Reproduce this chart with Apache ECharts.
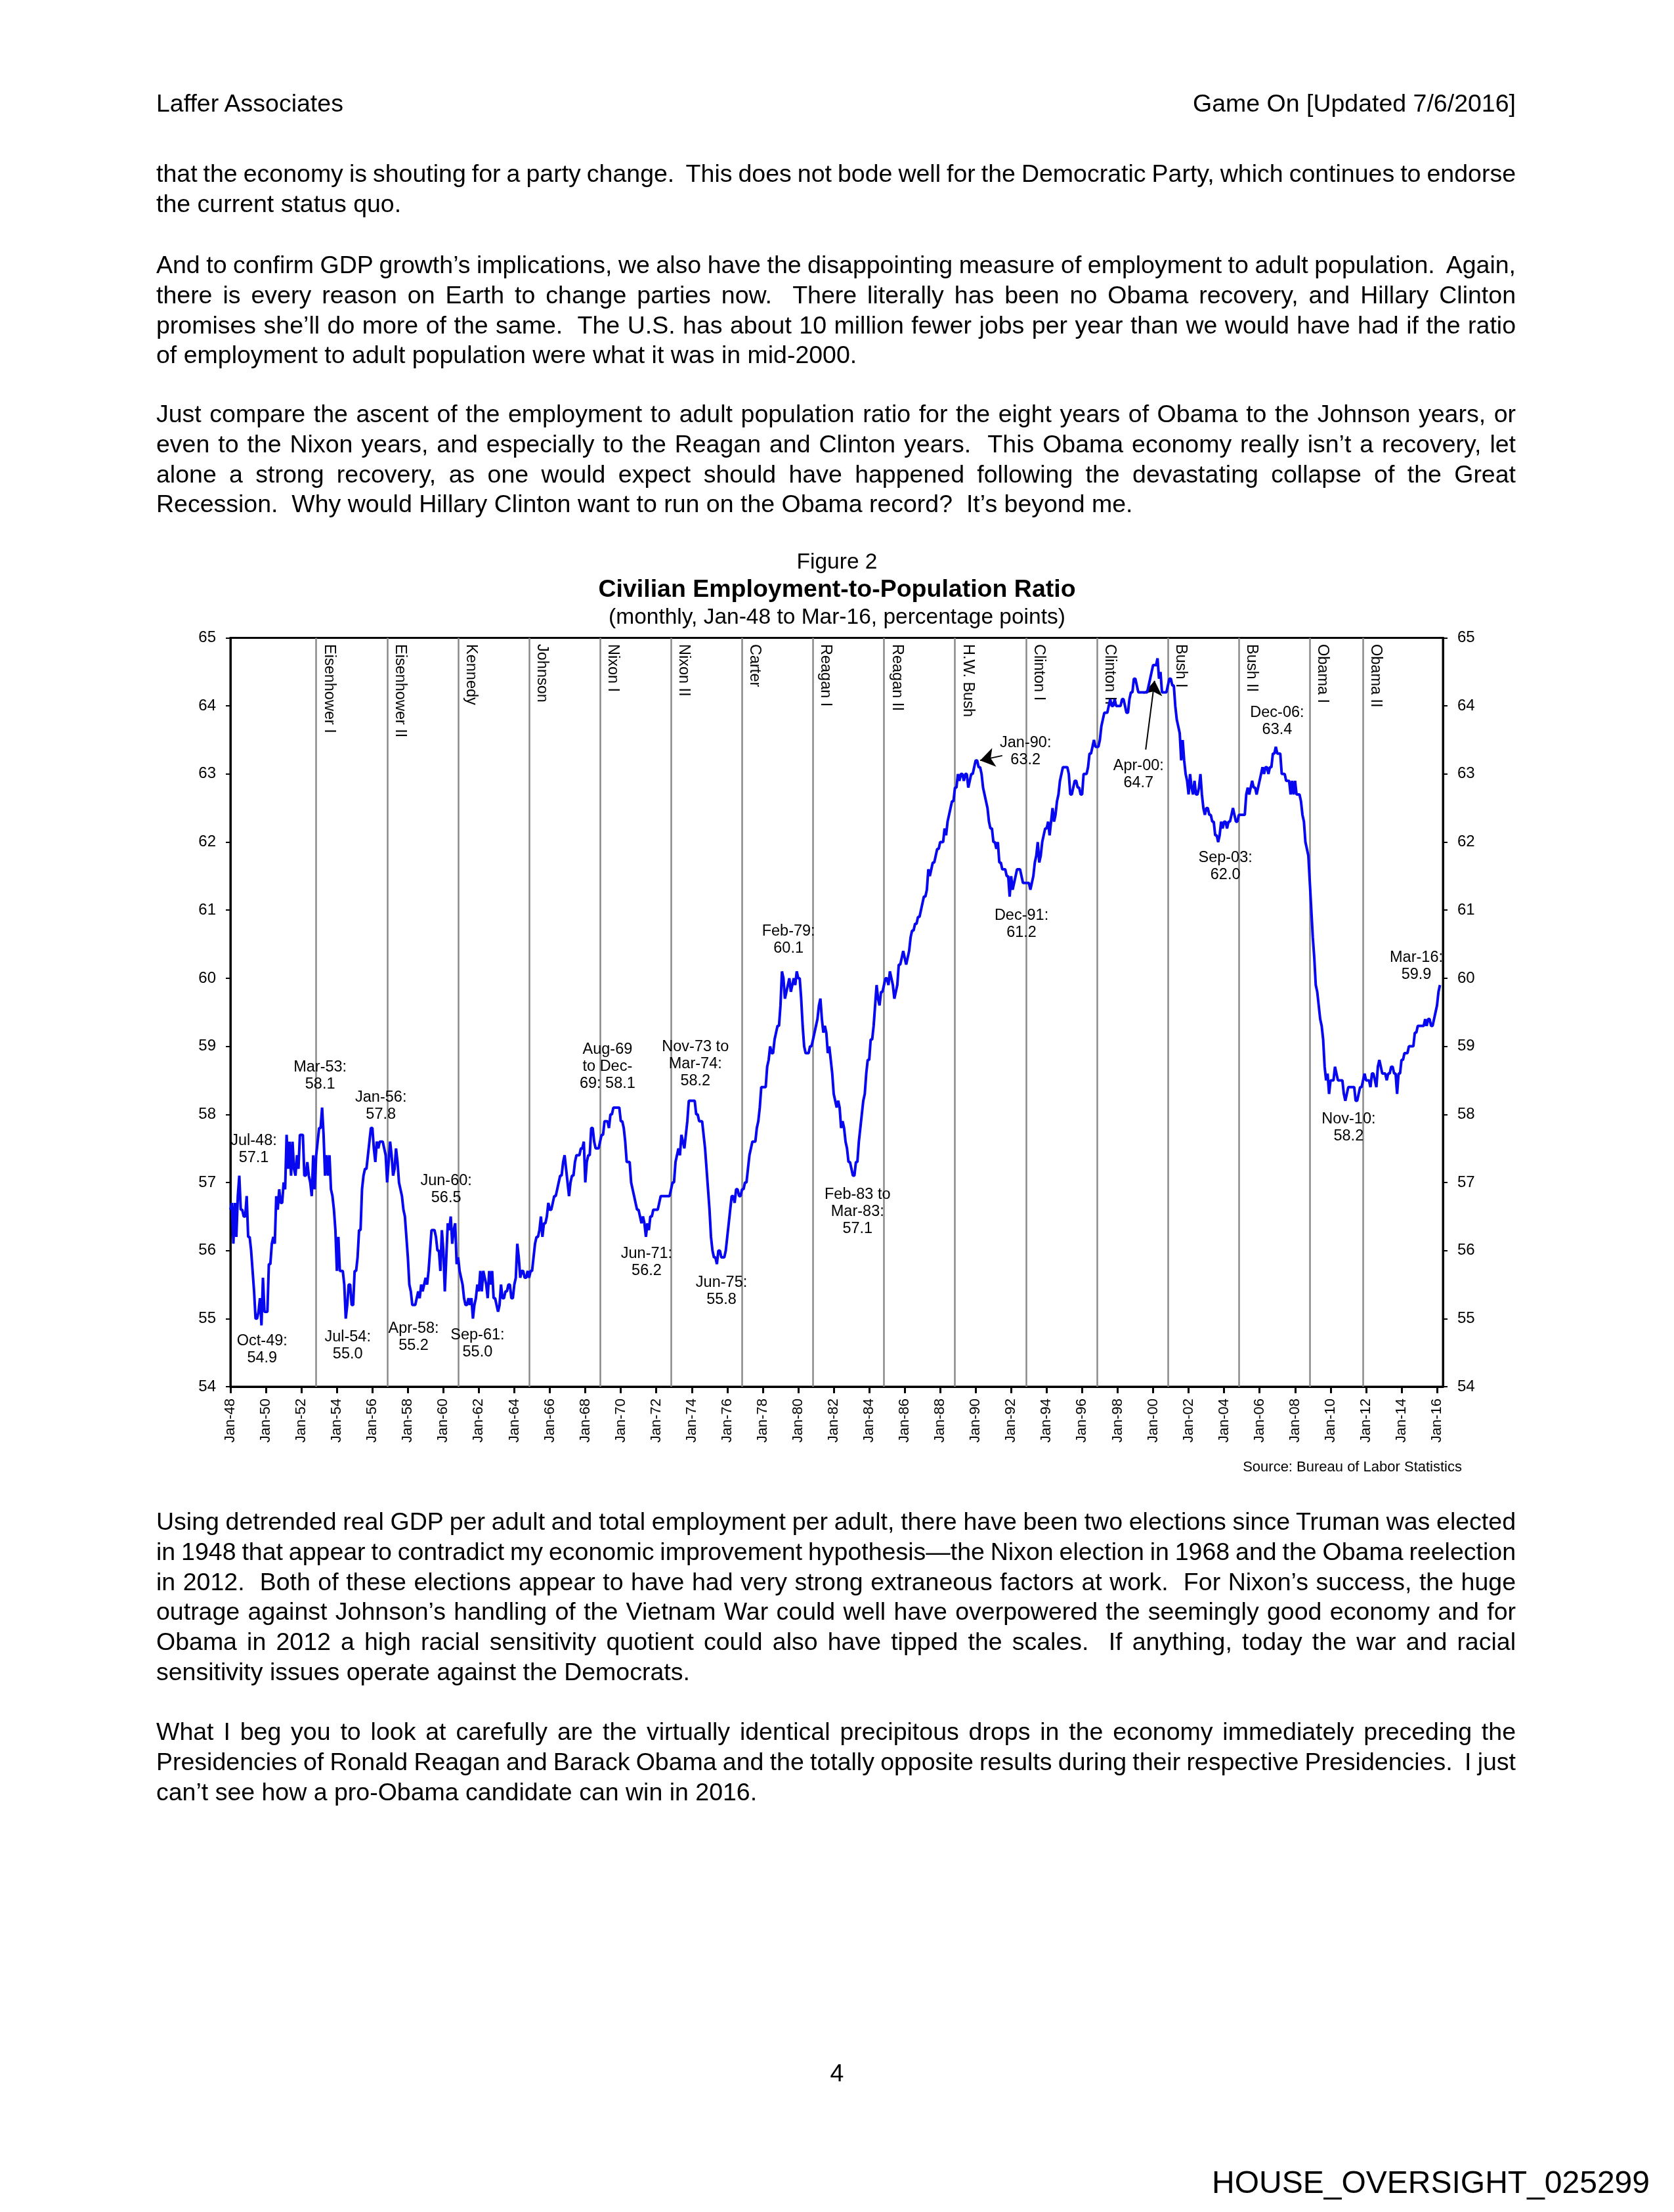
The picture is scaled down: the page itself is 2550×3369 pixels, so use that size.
<!DOCTYPE html>
<html>
<head>
<meta charset="utf-8">
<script src="https://cdn.jsdelivr.net/npm/echarts@6/dist/echarts.min.js"></script>
<style>
html,body{margin:0;padding:0;background:#fff;}
#page{position:relative;width:2550px;height:3369px;overflow:hidden;background:#fff;font-family:"Liberation Sans",Arial,sans-serif;color:#000;}
#chart{position:absolute;left:0;top:0;width:2550px;height:3369px;}
.ln{position:absolute;left:238px;width:2071px;font-size:37.5px;line-height:46px;white-space:pre;}
</style>
</head>
<body>
<div id="page"><div id="chart"></div></div>
<script>
// ---------------- DATA ----------------
const MONTH_NAMES = ['Jan','Feb','Mar','Apr','May','Jun','Jul','Aug','Sep','Oct','Nov','Dec'];
// category axis: Jan-48 .. May-16 (axis runs slightly past the last observation)
const categories = [];
for (let y = 1948; y <= 2016; y++) {
  for (let m = 0; m < 12; m++) {
    if (y === 2016 && m > 4) break;
    categories.push(MONTH_NAMES[m] + '-' + String(y % 100).padStart(2, '0'));
  }
}
const yTicks = [54,55,56,57,58,59,60,61,62,63,64,65];

const ratio1948_1959 = [
  56.6,56.7,56.1,56.7,56.2,56.8,57.1,56.6,56.6,56.5,56.5,56.8,
  56.2,56.2,56.0,55.7,55.4,55.0,55.0,55.1,55.3,54.9,55.6,55.1,
  55.1,55.1,55.8,55.8,56.1,56.2,56.1,56.8,56.6,56.9,56.7,56.7,
  57.0,56.9,57.7,57.2,57.6,57.1,57.6,57.2,57.1,57.4,57.2,57.7,
  57.7,57.7,57.1,57.1,57.3,57.1,57.0,56.8,57.4,56.9,57.4,57.6,
  57.8,57.8,58.1,57.7,57.1,57.4,57.1,57.4,56.9,56.8,56.6,56.3,
  55.7,56.2,55.7,55.7,55.7,55.5,55.0,55.2,55.5,55.5,55.2,55.2,
  55.7,55.7,55.9,56.3,56.3,56.9,57.1,57.2,57.2,57.4,57.6,57.8,
  57.8,57.5,57.3,57.6,57.5,57.6,57.6,57.6,57.5,57.4,57.0,57.3,
  57.6,57.4,57.1,57.2,57.5,57.3,57.0,56.9,56.8,56.6,56.5,56.2,
  55.9,55.5,55.4,55.2,55.2,55.2,55.3,55.4,55.3,55.5,55.4,55.5,
  55.6,55.5,55.7,56.0,56.3,56.3,56.3,56.2,56.0,56.0,55.7,56.3
];
const ratio1960s = [
  56.0,55.4,55.9,56.4,56.3,56.5,56.1,56.3,56.4,55.8,55.9,55.7,
  55.6,55.5,55.3,55.2,55.2,55.3,55.2,55.3,55.0,55.2,55.3,55.5,
  55.4,55.7,55.4,55.7,55.6,55.5,55.3,55.7,55.5,55.7,55.3,55.3,
  55.2,55.1,55.2,55.5,55.3,55.3,55.4,55.4,55.5,55.5,55.3,55.3,
  55.5,55.6,56.1,55.9,55.6,55.7,55.7,55.6,55.6,55.7,55.6,55.7,
  55.7,55.9,56.1,56.2,56.2,56.3,56.5,56.2,56.4,56.4,56.5,56.7,
  56.6,56.6,56.7,56.8,56.8,56.9,57.0,57.1,57.1,57.3,57.4,57.2,
  57.0,56.8,57.0,57.1,57.1,57.3,57.4,57.4,57.4,57.5,57.5,57.6,
  57.0,57.3,57.4,57.4,57.8,57.8,57.6,57.5,57.5,57.5,57.6,57.7,
  57.7,57.9,57.9,57.9,57.8,58.0,58.0,58.1,58.1,58.1,58.1,58.1
];
const ratio1970s = [
  57.9,57.9,57.8,57.6,57.3,57.3,57.3,57.0,56.9,56.8,56.7,56.6,
  56.6,56.5,56.4,56.5,56.4,56.2,56.4,56.3,56.5,56.5,56.6,56.6,
  56.6,56.6,56.7,56.8,56.8,56.8,56.8,56.8,56.8,56.8,56.9,57.0,
  57.0,57.3,57.4,57.5,57.4,57.7,57.6,57.5,57.7,57.9,58.2,58.2,
  58.2,58.2,58.2,58.0,58.0,57.9,57.9,57.9,57.7,57.5,57.2,56.9,
  56.6,56.2,56.0,55.9,55.9,55.8,56.0,56.0,55.9,55.9,55.9,56.0,
  56.2,56.4,56.6,56.8,56.8,56.7,56.9,56.9,56.8,56.8,56.9,56.9,
  57.0,57.0,57.2,57.4,57.5,57.6,57.6,57.6,57.8,57.9,58.1,58.4,
  58.4,58.4,58.4,58.7,58.8,59.0,58.9,58.9,59.1,59.2,59.3,59.3,
  59.6,60.1,60.0,59.7,59.8,59.9,60.0,59.8,59.9,60.0,59.9,60.1
];
const ratio1980s = [
  60.0,60.0,59.7,59.3,59.0,58.9,58.9,58.9,59.0,59.0,59.1,59.2,
  59.3,59.4,59.6,59.7,59.4,59.2,59.3,59.2,58.9,59.0,58.8,58.6,
  58.3,58.2,58.1,58.2,58.1,57.8,57.9,57.8,57.6,57.5,57.3,57.3,
  57.2,57.1,57.1,57.3,57.3,57.6,57.8,58.0,58.2,58.3,58.6,58.8,
  58.8,59.1,59.1,59.3,59.6,59.9,59.7,59.6,59.8,59.8,59.9,60.0,
  60.0,59.9,60.1,60.0,59.9,59.7,59.8,59.9,60.2,60.2,60.3,60.4,
  60.3,60.2,60.3,60.4,60.6,60.7,60.7,60.8,60.8,60.9,60.9,61.0,
  61.1,61.2,61.2,61.3,61.6,61.5,61.6,61.7,61.7,61.8,61.9,61.9,
  62.0,62.0,62.0,62.2,62.1,62.3,62.4,62.5,62.6,62.6,62.8,62.8,
  63.0,62.9,63.0,63.0,62.9,63.0,63.0,62.8,62.9,63.0,63.0,63.1
];
const ratio1990s = [
  63.2,63.2,63.1,63.1,63.0,62.8,62.7,62.6,62.5,62.3,62.2,62.2,
  62.0,62.0,61.9,62.0,61.7,61.7,61.6,61.6,61.6,61.5,61.5,61.2,
  61.5,61.3,61.4,61.5,61.6,61.6,61.6,61.5,61.4,61.4,61.4,61.4,
  61.4,61.3,61.4,61.5,61.7,61.8,62.0,61.7,61.8,62.0,62.1,62.2,
  62.2,62.3,62.1,62.3,62.5,62.3,62.4,62.6,62.7,62.9,63.0,63.1,
  63.1,63.1,63.1,63.0,62.7,62.7,62.8,62.9,62.9,62.8,62.8,62.7,
  62.7,63.0,63.0,63.0,63.1,63.3,63.3,63.4,63.5,63.4,63.4,63.4,
  63.5,63.7,63.8,63.9,63.9,63.9,64.0,64.1,64.0,64.0,64.1,64.0,
  64.0,64.0,64.0,64.1,64.1,64.0,63.9,63.9,64.1,64.2,64.2,64.4,
  64.4,64.3,64.2,64.2,64.2,64.2,64.2,64.2,64.2,64.3,64.4,64.5
];
const ratio2000s = [
  64.6,64.6,64.6,64.7,64.4,64.5,64.2,64.2,64.2,64.2,64.3,64.4,
  64.4,64.3,64.3,64.0,63.8,63.7,63.6,63.2,63.5,63.2,63.0,62.9,
  62.7,63.0,62.8,62.7,62.9,62.7,62.7,62.8,63.0,62.7,62.5,62.4,
  62.5,62.5,62.4,62.4,62.3,62.3,62.1,62.1,62.0,62.1,62.3,62.2,
  62.3,62.3,62.2,62.3,62.3,62.4,62.5,62.4,62.3,62.3,62.4,62.4,
  62.4,62.4,62.4,62.7,62.8,62.7,62.8,62.9,62.8,62.8,62.7,62.8,
  62.9,63.0,63.1,63.0,63.1,63.1,63.0,63.1,63.1,63.3,63.3,63.4,
  63.3,63.3,63.3,63.0,63.0,63.0,62.9,62.9,62.9,62.7,62.9,62.7,
  62.9,62.7,62.7,62.7,62.6,62.4,62.3,62.0,61.9,61.8,61.4,61.0,
  60.6,60.3,59.9,59.8,59.6,59.4,59.3,59.1,58.7,58.5,58.6,58.3
];
const ratio2010_2016 = [
  58.5,58.5,58.5,58.7,58.6,58.5,58.5,58.5,58.5,58.3,58.2,58.3,
  58.4,58.4,58.4,58.4,58.4,58.2,58.2,58.3,58.4,58.4,58.5,58.6,
  58.5,58.5,58.5,58.4,58.6,58.6,58.5,58.4,58.7,58.8,58.7,58.6,
  58.6,58.6,58.5,58.6,58.6,58.7,58.7,58.6,58.6,58.3,58.6,58.6,
  58.8,58.8,58.9,58.9,58.9,59.0,59.0,59.0,59.0,59.2,59.2,59.3,
  59.3,59.3,59.3,59.3,59.4,59.3,59.4,59.4,59.3,59.3,59.4,59.5,
  59.6,59.8,59.9
];
const ratio = [].concat(ratio1948_1959, ratio1960s, ratio1970s, ratio1980s, ratio1990s, ratio2000s, ratio2010_2016);

// presidential terms (vertical lines as drawn in the reference)
const presMonths = ['Nov-52','Nov-56','Nov-60','Nov-64','Nov-68','Nov-72','Nov-76','Nov-80','Nov-84','Nov-88','Nov-92','Nov-96','Nov-00','Nov-04','Nov-08','Nov-11'];
const presNames  = ['Eisenhower I','Eisenhower II','Kennedy','Johnson','Nixon I','Nixon II','Carter','Reagan I','Reagan II','H.W. Bush','Clinton I','Clinton II','Bush I','Bush II','Obama I','Obama II'];

// annotated points
const annotMonths = ['Jul-48','Oct-49','Mar-53','Jul-54','Jan-56','Apr-58','Jun-60','Sep-61','Aug-69','Jun-71','Nov-73','Jun-75','Feb-79','Feb-83','Jan-90','Dec-91','Apr-00','Sep-03','Dec-06','Nov-10','Mar-16'];
const annotValues = [57.1,54.9,58.1,55.0,57.8,55.2,56.5,55.0,58.1,56.2,58.2,55.8,60.1,57.1,63.2,61.2,64.7,62.0,63.4,58.2,59.9];
const annotTexts  = ['Jul-48:\n57.1','Oct-49:\n54.9','Mar-53:\n58.1','Jul-54:\n55.0','Jan-56:\n57.8','Apr-58:\n55.2','Jun-60:\n56.5','Sep-61:\n55.0','Aug-69\nto Dec-\n69: 58.1','Jun-71:\n56.2','Nov-73 to\nMar-74:\n58.2','Jun-75:\n55.8','Feb-79:\n60.1','Feb-83 to\nMar-83:\n57.1','Jan-90:\n63.2','Dec-91:\n61.2','Apr-00:\n64.7','Sep-03:\n62.0','Dec-06:\n63.4','Nov-10:\n58.2','Mar-16:\n59.9'];
// arrows (data coordinates)
const arrowFrom = [['Jul-91', 63.27], ['Aug-99', 63.36]];
const arrowTo   = [['Apr-90', 63.2],  ['Feb-00', 64.37]];

// ---------------- LAYOUT (label offsets in px) ----------------
const annotOffsets = [[22,-40],[1,37],[-3,-48],[3,41],[13,-33],[2,49],[-7,-41],[7,38],[-9,-62],[1,39],[10,-56],[7,41],[10,-48],[7,55],[76,-14],[18,42],[-29,177],[11,37],[2,-39],[5,41],[-36,-29]];

// ---------------- PAGE TEXT ----------------
const paragraphs = [
  {top: 241, lines: [
    'that the economy is shouting for a party change.  This does not bode well for the Democratic Party, which continues to endorse',
    'the current status quo.']},
  {top: 380, lines: [
    'And to confirm GDP growth\u2019s implications, we also have the disappointing measure of employment to adult population.  Again,',
    'there is every reason on Earth to change parties now.  There literally has been no Obama recovery, and Hillary Clinton',
    'promises she\u2019ll do more of the same.  The U.S. has about 10 million fewer jobs per year than we would have had if the ratio',
    'of employment to adult population were what it was in mid-2000.']},
  {top: 607, lines: [
    'Just compare the ascent of the employment to adult population ratio for the eight years of Obama to the Johnson years, or',
    'even to the Nixon years, and especially to the Reagan and Clinton years.  This Obama economy really isn\u2019t a recovery, let',
    'alone a strong recovery, as one would expect should have happened following the devastating collapse of the Great',
    'Recession.  Why would Hillary Clinton want to run on the Obama record?  It\u2019s beyond me.']},
  {top: 2294, lines: [
    'Using detrended real GDP per adult and total employment per adult, there have been two elections since Truman was elected',
    'in 1948 that appear to contradict my economic improvement hypothesis\u2014the Nixon election in 1968 and the Obama reelection',
    'in 2012.  Both of these elections appear to have had very strong extraneous factors at work.  For Nixon\u2019s success, the huge',
    'outrage against Johnson\u2019s handling of the Vietnam War could well have overpowered the seemingly good economy and for',
    'Obama in 2012 a high racial sensitivity quotient could also have tipped the scales.  If anything, today the war and racial',
    'sensitivity issues operate against the Democrats.']},
  {top: 2614, lines: [
    'What I beg you to look at carefully are the virtually identical precipitous drops in the economy immediately preceding the',
    'Presidencies of Ronald Reagan and Barack Obama and the totally opposite results during their respective Presidencies.  I just',
    'can\u2019t see how a pro-Obama candidate can win in 2016.']}
];

const page = document.getElementById('page');
function addDiv(text, style) {
  const d = document.createElement('div');
  d.className = 'ln';
  Object.assign(d.style, style);
  const s = document.createElement('span');
  s.textContent = text;
  d.appendChild(s);
  page.appendChild(d);
  return d;
}
addDiv('Laffer Associates', {top: '134px'});
addDiv('Game On [Updated 7/6/2016]', {top: '134px', textAlign: 'right'});
paragraphs.forEach(p => {
  p.lines.forEach((t, i) => {
    const d = addDiv(t, {top: (p.top + i * 45.8) + 'px'});
    if (i < p.lines.length - 1) {
      const w = d.firstChild.getBoundingClientRect().width;
      const n = (t.match(/ /g) || []).length;
      if (n) d.style.wordSpacing = ((2071 - w) / n) + 'px';
    }
  });
});
addDiv('4', {top: '3134px', left: '0px', width: '2550px', textAlign: 'center'});
addDiv('HOUSE_OVERSIGHT_025299', {top: '3296px', left: '0px', width: '2513px', textAlign: 'right', fontSize: '48px', lineHeight: '56px'});

// ---------------- CHART ----------------
const FONT = '"Liberation Sans", Arial, sans-serif';
const chart = echarts.init(document.getElementById('chart'), null, {width: 2550, height: 3369, renderer: 'canvas'});
const every24 = (idx) => idx % 24 === 0;
const yAxisCommon = {
  type: 'value', min: 54, max: 65, interval: 1,
  axisLine: {show: true, lineStyle: {color: '#000', width: 3}},
  axisTick: {show: true, length: 7, lineStyle: {color: '#000', width: 2}},
  axisLabel: {margin: 22, fontSize: 24, color: '#000', fontFamily: FONT,
              formatter: v => yTicks.indexOf(v) >= 0 ? String(v) : ''},
  splitLine: {show: false}
};
const option = {
  animation: false,
  backgroundColor: 'transparent',
  textStyle: {fontFamily: FONT},
  title: [
    {text: 'Figure 2', left: 'center', top: 832,
     textStyle: {fontFamily: FONT, fontSize: 33.5, fontWeight: 'normal', color: '#000', lineHeight: 40}},
    {text: 'Civilian Employment-to-Population Ratio', left: 'center', top: 872,
     textStyle: {fontFamily: FONT, fontSize: 37.5, fontWeight: 'bold', color: '#000', lineHeight: 44}},
    {text: '(monthly, Jan-48 to Mar-16, percentage points)', left: 'center', top: 916,
     textStyle: {fontFamily: FONT, fontSize: 33.5, fontWeight: 'normal', color: '#000', lineHeight: 40}},
    {text: 'Source: Bureau of Labor Statistics', right: 318, top: 2217,
     textStyle: {fontFamily: FONT, fontSize: 22, fontWeight: 'normal', color: '#000', lineHeight: 26}}
  ],
  grid: {left: 351, right: 352, top: 971.5, bottom: 1257, show: true,
         borderColor: '#000', borderWidth: 3, backgroundColor: 'transparent'},
  xAxis: {
    type: 'category', data: categories, boundaryGap: false,
    axisLine: {show: true, lineStyle: {color: '#000', width: 3}},
    axisTick: {show: true, interval: every24, length: 10, lineStyle: {color: '#000', width: 3}},
    axisLabel: {interval: every24, rotate: 90, margin: 18, fontSize: 22, color: '#000', fontFamily: FONT},
    splitLine: {show: false}
  },
  yAxis: [
    Object.assign({position: 'left'}, yAxisCommon),
    Object.assign({position: 'right'}, yAxisCommon)
  ],
  series: [
    {
      type: 'line', name: 'Employment-to-Population Ratio', data: ratio,
      showSymbol: false, symbol: 'none', z: 5,
      lineStyle: {color: '#0808f0', width: 4}
    },
    {
      type: 'scatter', name: 'Presidents', z: 1,
      data: presMonths.map(m => [m, 65]),
      symbolSize: 1, itemStyle: {color: 'rgba(0,0,0,0)', opacity: 1},
      label: {show: true, formatter: p => presNames[p.dataIndex], position: [20, 10], rotate: -90, opacity: 1,
              align: 'left', verticalAlign: 'middle', fontSize: 23.5, color: '#000', fontFamily: FONT},
      markLine: {silent: true, z: 1, symbol: ['none', 'none'], label: {show: false},
                 lineStyle: {color: '#8a8a8a', width: 2.5, type: 'solid', opacity: 1},
                 data: presMonths.map(m => ({xAxis: m}))}
    },
    {
      type: 'scatter', name: 'Annotations', z: 6,
      data: annotMonths.map((m, i) => ({value: [m, annotValues[i]], label: {offset: annotOffsets[i]}})),
      symbolSize: 1, itemStyle: {color: 'rgba(0,0,0,0)', opacity: 1},
      label: {show: true, position: 'inside', formatter: p => annotTexts[p.dataIndex], opacity: 1,
              fontSize: 23.5, lineHeight: 26, align: 'center', verticalAlign: 'middle', color: '#000', fontFamily: FONT},
      markLine: {silent: true, symbol: ['none', 'arrow'], symbolSize: 22, label: {show: false},
                 lineStyle: {color: '#000', width: 2, type: 'solid', opacity: 1},
                 data: arrowFrom.map((f, i) => [{coord: f}, {coord: arrowTo[i]}])}
    }
  ]
};
chart.setOption(option);
</script>
</body>
</html>
